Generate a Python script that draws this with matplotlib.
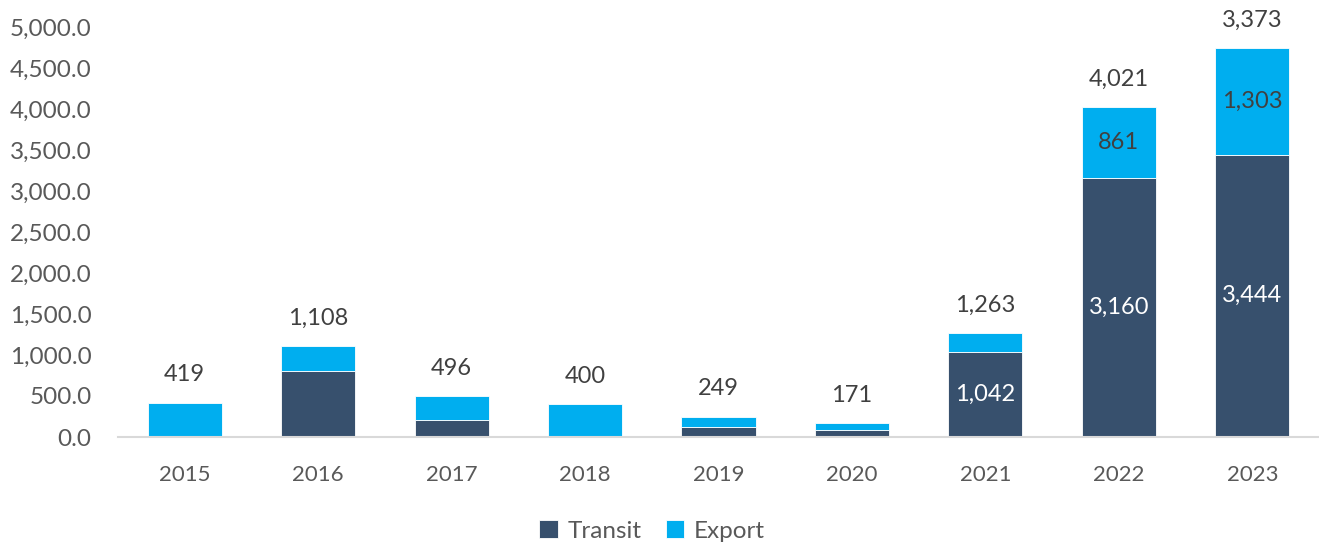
import matplotlib
matplotlib.use("Agg")
import matplotlib.pyplot as plt
import numpy as np

years = ["2015", "2016", "2017", "2018", "2019", "2020", "2021", "2022", "2023"]
transit = [0, 805, 207, 0, 122, 85, 1042, 3160, 3444]
export = [419, 303, 289, 400, 127, 86, 221, 861, 1303]
total_labels = ["419", "1,108", "496", "400", "249", "171", "1,263", "4,021", "3,373"]
transit_labels = {6: "1,042", 7: "3,160", 8: "3,444"}
export_labels = {7: "861", 8: "1,303"}

plt.rcParams['font.family'] = ['Lato', 'DejaVu Sans']

W, H = 1319, 544
fig = plt.figure(figsize=(W/100, H/100), dpi=100)
ax = fig.add_axes([118/W, (H-437)/H, 1-118/W, (437-27)/H])

x = np.arange(len(years))
dark = "#37506d"
cyan = "#00aeef"
bw = 0.555
ax.bar(x, transit, width=bw, color=dark, edgecolor="white", linewidth=0.6, label="Transit", zorder=2)
ax.bar(x, export, width=bw, bottom=transit, color=cyan, edgecolor="white", linewidth=0.6, label="Export", zorder=2)

ax.set_xlim(-0.5, len(years)-0.5)
ax.set_ylim(0, 5000)
ax.set_yticks(np.arange(0, 5001, 500))
ax.set_yticklabels([f"{v:,.1f}" for v in np.arange(0, 5001, 500)])
ax.set_xticks(x)
ax.set_xticklabels(years)
ax.tick_params(axis='y', length=0, labelsize=17.5, labelcolor="#595959", pad=19)
ax.tick_params(axis='x', length=0, labelsize=16, labelcolor="#595959", pad=20)
for s in ["top", "right", "left"]:
    ax.spines[s].set_visible(False)
ax.spines["bottom"].set_color("#d9d9d9")
ax.spines["bottom"].set_linewidth(1.5)

for i in range(len(years)):
    tot = transit[i] + export[i]
    ax.annotate(total_labels[i], (x[i], tot), xytext=(0, 20), textcoords="offset points",
                ha="center", va="center", fontsize=17, color="#404040", annotation_clip=False)
for i, lab in transit_labels.items():
    ax.text(x[i], transit[i]/2, lab, ha="center", va="center", fontsize=17, color="white")
for i, lab in export_labels.items():
    ax.text(x[i], transit[i] + export[i]/2, lab, ha="center", va="center", fontsize=17, color="#404040")

leg = fig.legend(loc="center", bbox_to_anchor=(652/W, 1-531/H), ncol=2, frameon=False,
                 fontsize=17.5, handlelength=0.75, handleheight=0.75, handletextpad=0.4, columnspacing=1.0)
for t in leg.get_texts():
    t.set_color("#595959")

fig.savefig("out.png", dpi=100)
